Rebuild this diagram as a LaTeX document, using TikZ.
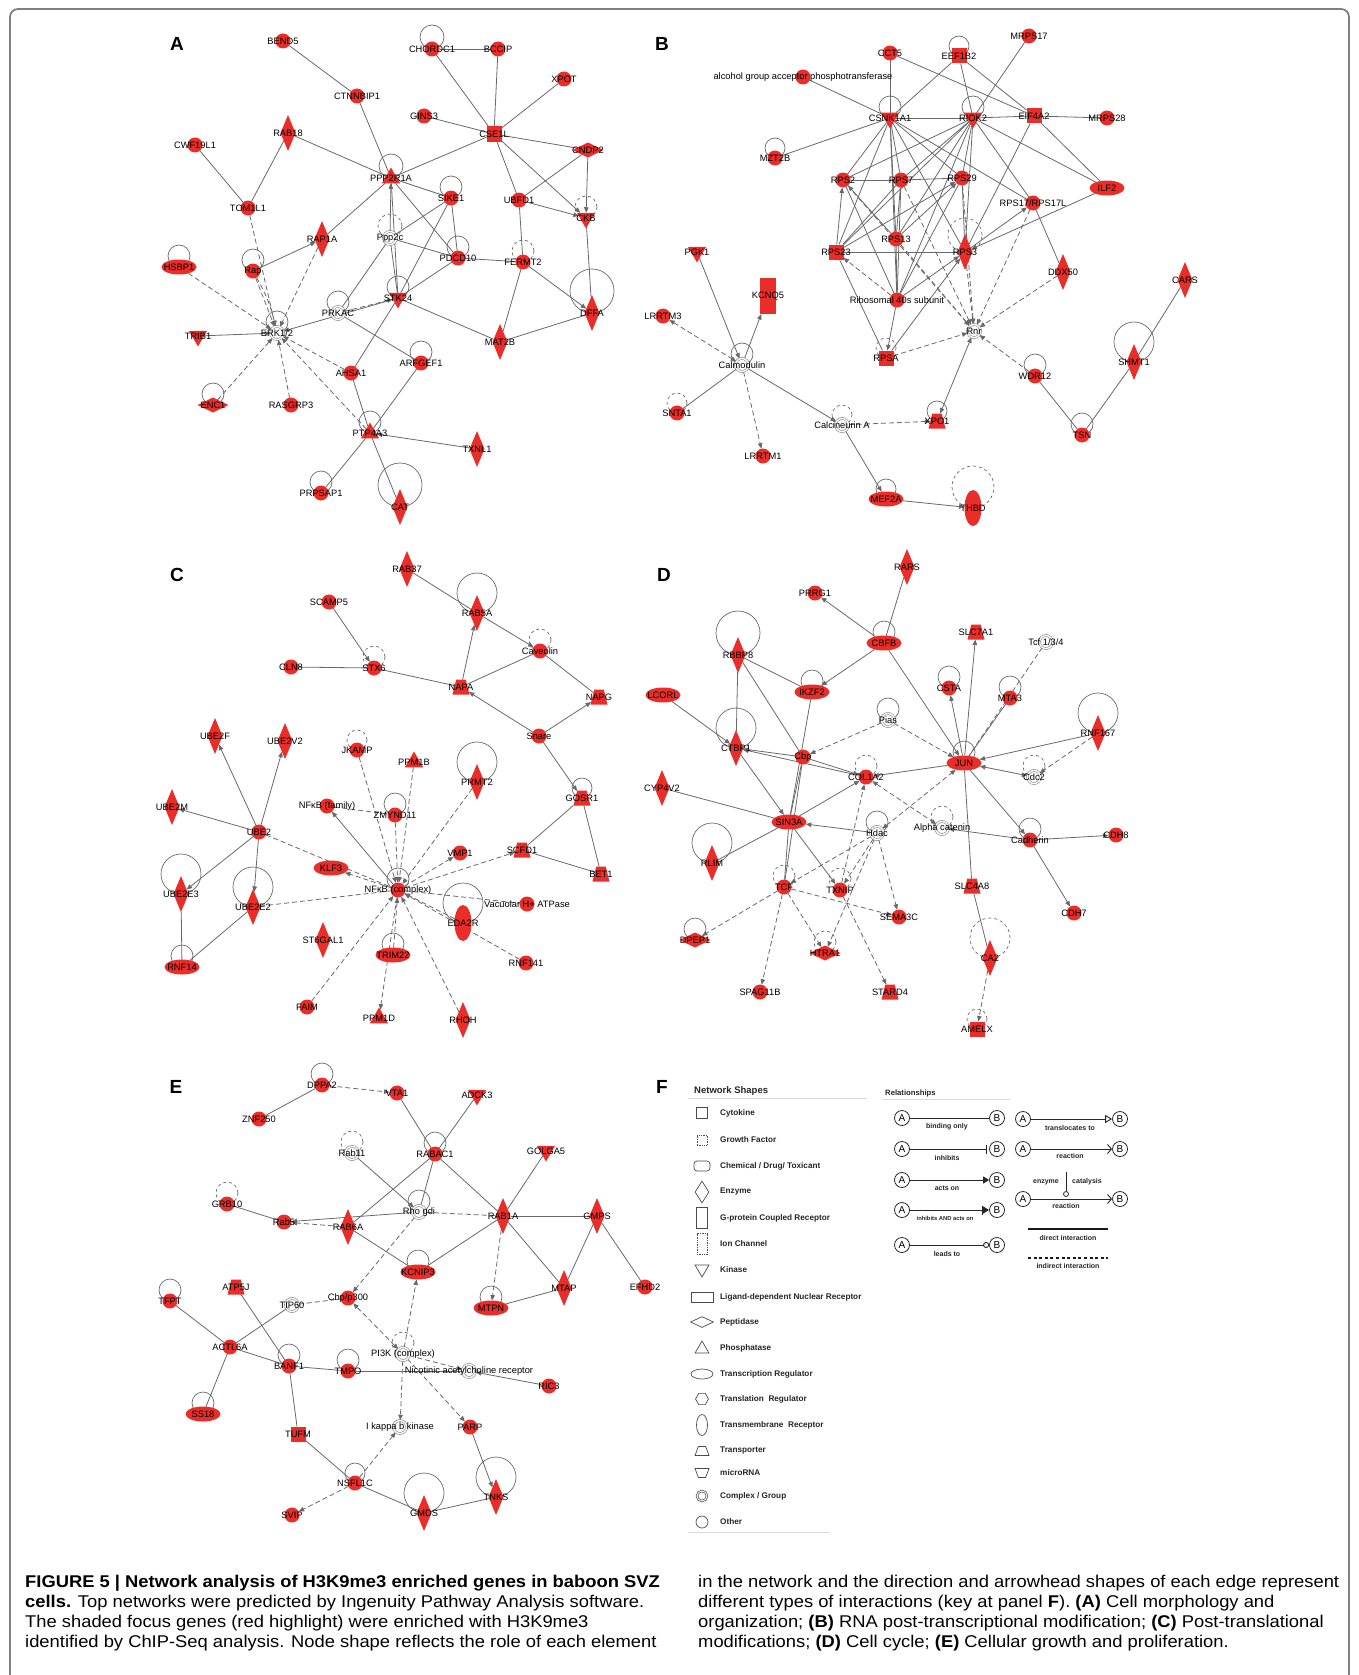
\documentclass[tikz,border=0pt]{standalone}
\usepackage{fontspec}
\usepackage{graphicx}
\setmainfont{Liberation Sans}
\usetikzlibrary{shapes.geometric,arrows.meta,backgrounds}
\definecolor{gred}{RGB}{233,45,41}
\definecolor{eg}{RGB}{105,105,105}
\tikzset{
  gn/.style={fill=gred,draw=none,inner sep=0pt,outer sep=0pt},
  gc/.style={gn,circle,minimum size=15pt},
  gsq/.style={gn,rectangle,minimum width=15pt,minimum height=15pt},
  grect/.style={gn,rectangle,minimum width=16pt,minimum height=36pt},
  genz/.style={gn,diamond,minimum width=15pt,minimum height=36pt},
  gpep/.style={gn,diamond,minimum width=31pt,minimum height=15pt},
  gtr/.style={gn,ellipse,minimum width=35pt,minimum height=15pt},
  gvt/.style={gn,ellipse,minimum width=17pt,minimum height=36pt},
  gkin/.style={gn,regular polygon,regular polygon sides=3,shape border rotate=180,minimum size=21pt},
  gpho/.style={gn,regular polygon,regular polygon sides=3,minimum size=21pt},
  gtp/.style={gn,trapezium,inner sep=1pt,trapezium stretches=true,trapezium left angle=68,trapezium right angle=68,minimum width=17pt,minimum height=15pt},
  gcx/.style={circle,draw=black!50,line width=0.6pt,double=white,double distance=1.4pt,fill=white,minimum size=13pt,inner sep=0pt},
  lb/.style={inner sep=0pt,font=\fontsize{9.3}{10}\selectfont,text=black},
  plet/.style={inner sep=0pt,font=\bfseries\fontsize{19}{20}\selectfont},
  ed/.style={draw=eg,line width=0.8pt},
  ea/.style={ed,-{Triangle[length=5.5pt,width=4.5pt]}},
  eb/.style={ed,{Triangle[length=5.5pt,width=4.5pt]}-{Triangle[length=5.5pt,width=4.5pt]}},
  dd/.style={ed,dash pattern=on 5pt off 3pt},
  da/.style={dd,-{Triangle[length=5.5pt,width=4.5pt]}},
  db/.style={dd,{Triangle[length=5.5pt,width=4.5pt]}-{Triangle[length=5.5pt,width=4.5pt]}},
  lpp/.style={draw=eg,line width=0.7pt},
  ic/.style={draw=black!70,line width=0.7pt,fill=white,inner sep=0pt},
  lgt/.style={anchor=west,inner sep=0pt,font=\bfseries\fontsize{8.2}{9}\selectfont,text=black!85},
  abn/.style={circle,draw=black!85,line width=0.8pt,minimum size=15pt,inner sep=0pt,font=\fontsize{10}{10}\selectfont},
  rl/.style={draw=black!85,line width=0.9pt},
  rlt/.style={inner sep=0pt,font=\bfseries\fontsize{7}{8}\selectfont,text=black!85},
  captx/.style={anchor=base west,inner sep=0pt,font=\fontsize{17}{20}\selectfont},
}
\newcommand\GN[5]{\node[#1] (#2) at (#3,#4) {};\node[lb] (#2-t) at (#3,#4) {#5};}
\newcommand\GL[3][]{\draw[lpp,#1] ([yshift=#3pt]#2.center) circle (#3pt);}
\newcommand\CP[4]{\node[captx] (#1) at (#2,#3) {\scalebox{1.08}[1]{#4}};}
\begin{document}
\begin{tikzpicture}[x=1pt,y=-1pt]
\useasboundingbox (0,0) rectangle (1359,1675);
\begin{scope}[on background layer]
\fill[white] (0,0) rectangle (1359,1675);
\end{scope}
\draw[black!50,line width=1.8pt,rounded corners=8pt] (10,9) rectangle (1349,1700);

% ================= Panel A =================
\node[plet] (pA) at (177,44) {A};
\GN{gc}{bend5}{283}{41}{BEND5}
\GN{gc}{ctnn}{357}{96}{CTNNBIP1}
\GN{gc}{chor}{432}{49}{CHORDC1}
\GN{gc}{bccip}{498}{49}{BCCIP}
\GN{gc}{xpot}{564}{79}{XPOT}
\GN{gc}{gins}{424}{116}{GINS3}
\GN{gsq}{cse}{494}{134}{CSE1L}
\GN{gpep}{cndp}{588}{150}{CNDP2}
\GN{genz}{rab18}{288}{133}{RAB18}
\GN{gc}{cwf}{195}{145}{CWF19L1}
\GN{gpho}{ppp2r1a}{391}{178}{PPP2R1A}
\GN{gc}{sike}{451}{198}{SIKE1}
\GN{gc}{ubfd}{519}{200}{UBFD1}
\GN{gkin}{ckb}{586}{218}{CKB}
\GN{gc}{tom}{248}{208}{TOM1L1}
\GN{genz}{rap1a}{322}{239}{RAP1A}
\GN{gcx}{ppp2c}{390}{238}{Ppp2c}
\GN{gc}{pdcd}{458}{258}{PDCD10}
\GN{gc}{fermt}{523}{262}{FERMT2}
\GN{gtr}{hsbp}{179}{267}{HSBP1}
\GN{gc}{rap}{253}{271}{Rap}
\GN{gkin}{stk}{398}{298}{STK24}
\GN{genz}{dffa}{592}{313}{DFFA}
\GN{gcx}{prkac}{338}{313}{PRKAC}
\GN{gcx}{erk}{277}{333}{ERK1/2}
\GN{gkin}{trib}{198}{336}{TRIB1}
\GN{genz}{mat2b}{500}{342}{MAT2B}
\GN{gc}{ahsa}{351}{373}{AHSA1}
\GN{gc}{arfgef}{421}{363}{ARFGEF1}
\GN{gpep}{enc1}{213}{405}{ENC1}
\GN{gc}{rasgrp}{291}{405}{RASGRP3}
\GN{gpho}{ptp}{370}{433}{PTP4A3}
\GN{genz}{txnl}{477}{449}{TXNL1}
\GN{gc}{prps}{321}{493}{PRPSAP1}
\GN{genz}{cat}{400}{507}{CAT}

% ================= Panel B =================
\node[plet] (pB) at (662,44) {B};
\GN{gc}{mrps17}{1029}{36}{MRPS17}
\GN{gc}{cct5}{890}{53}{CCT5}
\GN{gsq}{eef1b2}{959}{56}{EEF1B2}
\GN{gc}{alc}{803}{77}{alcohol group acceptor phosphotransferase}
\GN{gkin}{csnk}{890}{118}{CSNK1A1}
\GN{gkin}{riok}{973}{118}{RIOK2}
\GN{gsq}{eif}{1034}{116}{EIF4A2}
\GN{gc}{mrps28}{1107}{118}{MRPS28}
\GN{gc}{mzt}{775}{158}{MZT2B}
\GN{gc}{rps2}{843}{180}{RPS2}
\GN{gc}{rps7}{901}{180}{RPS7}
\GN{gc}{rps29}{962}{178}{RPS29}
\GN{gc}{rps17}{1033}{203}{RPS17/RPS17L}
\GN{gtr}{ilf2}{1107}{188}{ILF2}
\GN{gc}{rps13}{896}{239}{RPS13}
\GN{gsq}{rps23}{836}{252}{RPS23}
\GN{genz}{rps3}{965}{252}{RPS3}
\GN{genz}{ddx50}{1063}{272}{DDX50}
\GN{genz}{cars}{1185}{280}{CARS}
\GN{gkin}{pgk1}{697}{252}{PGK1}
\GN{grect}{kcnq}{768}{296}{KCNQ5}
\GN{gc}{ribo}{897}{300}{Ribosomal 40s subunit}
\GN{gc}{lrrtm3}{663}{316}{LRRTM3}
\GN{gcx}{rnr}{974}{331}{Rnr}
\GN{gcx}{calm}{742}{365}{Calmodulin}
\GN{gsq}{rpsa}{886}{358}{RPSA}
\GN{gc}{wdr12}{1035}{376}{WDR12}
\GN{genz}{shmt1}{1134}{362}{SHMT1}
\GN{gc}{snta1}{677}{413}{SNTA1}
\GN{gcx}{calc}{842}{425}{Calcineurin A}
\GN{gtp}{xpo1}{937}{421}{XPO1}
\GN{gc}{tsn}{1082}{435}{TSN}
\GN{gc}{lrrtm1}{763}{456}{LRRTM1}
\GN{gtr}{mef2a}{886}{499}{MEF2A}
\GN{gvt}{thbd}{973}{508}{THBD}

% ================= Panel C =================
\node[plet] (pC) at (177,575) {C};
\GN{genz}{rab37}{407}{569}{RAB37}
\GN{gc}{scamp}{329}{602}{SCAMP5}
\GN{genz}{rab5a}{477}{613}{RAB5A}
\GN{gc}{cav}{540}{651}{Caveolin}
\GN{gc}{cln8}{291}{667}{CLN8}
\GN{gc}{stx6}{374}{668}{STX6}
\GN{gtp}{napa}{461}{687}{NAPA}
\GN{gtp}{napg}{599}{697}{NAPG}
\GN{gc}{snare}{539}{736}{Snare}
\GN{genz}{ube2f}{215}{736}{UBE2F}
\GN{genz}{ube2v2}{285}{741}{UBE2V2}
\GN{gc}{jkamp}{357}{750}{JKAMP}
\GN{gpho}{ppm1b}{414}{762}{PPM1B}
\GN{genz}{prmt2}{477}{782}{PRMT2}
\GN{gtp}{gosr1}{582}{798}{GOSR1}
\GN{genz}{ube2m}{172}{807}{UBE2M}
\GN{gc}{nfkbf}{327}{806}{NFκB (family)}
\GN{gc}{zmynd}{395}{815}{ZMYND11}
\GN{gc}{ube2}{259}{832}{UBE2}
\GN{gc}{vmp1}{460}{853}{VMP1}
\GN{gtp}{scfd1}{522}{850}{SCFD1}
\GN{gtr}{klf3}{331}{868}{KLF3}
\GN{gtp}{bet1}{601}{874}{BET1}
\GN{gc}{nfkbc}{398}{890}{NFκB (complex)}
\GN{genz}{ube2e3}{181}{894}{UBE2E3}
\GN{genz}{ube2e2}{253}{907}{UBE2E2}
\GN{gvt}{eda2r}{463}{923}{EDA2R}
\GN{gc}{vac}{527}{904}{Vacuolar H+ ATPase}
\GN{genz}{st6}{323}{940}{ST6GAL1}
\GN{gtr}{trim}{393}{955}{TRIM22}
\GN{gc}{rnf141}{526}{963}{RNF141}
\GN{gtr}{rnf14}{182}{967}{RNF14}
\GN{gc}{faim}{307}{1007}{FAIM}
\GN{gpho}{ppm1d}{379}{1018}{PPM1D}
\GN{genz}{rhoh}{463}{1020}{RHOH}

% ================= Panel D =================
\node[plet] (pD) at (664,575) {D};
\GN{genz}{rars}{907}{567}{RARS}
\GN{gc}{prrg1}{815}{593}{PRRG1}
\GN{gtr}{cbfb}{884}{643}{CBFB}
\GN{gtp}{slc7a1}{976}{632}{SLC7A1}
\GN{gcx}{tcf134}{1046}{642}{Tcf 1/3/4}
\GN{genz}{rbbp8}{738}{655}{RBBP8}
\GN{gtr}{lcorl}{663}{695}{LCORL}
\GN{gtr}{ikzf2}{812}{692}{IKZF2}
\GN{gc}{csta}{949}{688}{CSTA}
\GN{gc}{mta3}{1010}{698}{MTA3}
\GN{gcx}{pias}{888}{720}{Pias}
\GN{genz}{rnf167}{1098}{733}{RNF167}
\GN{genz}{ctbp1}{736}{748}{CTBP1}
\GN{gc}{cbp}{803}{757}{Cbp}
\GN{gtr}{jun}{964}{763}{JUN}
\GN{gc}{col1a2}{866}{777}{COL1A2}
\GN{gcx}{cdc2}{1034}{777}{Cdc2}
\GN{genz}{cyp4v2}{662}{788}{CYP4V2}
\GN{gtr}{sin3a}{789}{822}{SIN3A}
\GN{gcx}{hdac}{877}{833}{Hdac}
\GN{gcx}{acat}{942}{828}{Alpha catenin}
\GN{gc}{cadh}{1030}{840}{Cadherin}
\GN{gc}{cdh8}{1116}{835}{CDH8}
\GN{genz}{rlim}{712}{863}{RLIM}
\GN{gc}{tcf}{784}{887}{TCF}
\GN{gc}{txnip}{840}{890}{TXNIP}
\GN{gtp}{slc4a8}{972}{886}{SLC4A8}
\GN{gc}{sema3c}{899}{917}{SEMA3C}
\GN{gc}{cdh7}{1074}{913}{CDH7}
\GN{gpep}{dpep1}{695}{940}{DPEP1}
\GN{gpep}{htra1}{825}{953}{HTRA1}
\GN{genz}{ca2}{990}{958}{CA2}
\GN{gc}{spag}{760}{992}{SPAG11B}
\GN{gtp}{stard4}{890}{992}{STARD4}
\GN{gsq}{amelx}{977}{1029}{AMELX}

% ================= Panel E =================
\node[plet] (pE) at (176,1087) {E};
\GN{gc}{dppa2}{322}{1085}{DPPA2}
\GN{gc}{vta1}{397}{1093}{VTA1}
\GN{gkin}{adck3}{477}{1095}{ADCK3}
\GN{gc}{znf}{259}{1119}{ZNF250}
\GN{gcx}{rab11}{352}{1153}{Rab11}
\GN{gc}{rabac1}{435}{1154}{RABAC1}
\GN{gkin}{golga5}{546}{1151}{GOLGA5}
\GN{gc}{grb10}{227}{1204}{GRB10}
\GN{gcx}{rhogdi}{419}{1212}{Rho gdi}
\GN{gc}{rab5}{284}{1222}{Rab5}
\GN{genz}{rab6a}{348}{1227}{RAB6A}
\GN{genz}{rab1a}{503}{1216}{RAB1A}
\GN{genz}{gmps}{597}{1216}{GMPS}
\GN{gtr}{kcnip3}{418}{1272}{KCNIP3}
\GN{genz}{mtap}{564}{1288}{MTAP}
\GN{gc}{efhd2}{645}{1287}{EFHD2}
\GN{gtp}{atp5j}{236}{1287}{ATP5J}
\GN{gc}{tfpt}{170}{1301}{TFPT}
\GN{gcx}{tip60}{292}{1305}{TIP60}
\GN{gc}{cbpp}{348}{1298}{Cbp/p300}
\GN{gtr}{mtpn}{491}{1308}{MTPN}
\GN{gc}{actl6a}{230}{1347}{ACTL6A}
\GN{gcx}{pi3k}{403}{1354}{PI3K (complex)}
\GN{gc}{banf1}{289}{1366}{BANF1}
\GN{gc}{tmpo}{348}{1371}{TMPO}
\GN{gcx}{nach}{469}{1371}{Nicotinic acetylcholine receptor}
\GN{gc}{ric3}{549}{1386}{RIC3}
\GN{gtr}{ss18}{203}{1414}{SS18}
\GN{gcx}{ikbk}{400}{1427}{I kappa b kinase}
\GN{gc}{parp}{470}{1427}{PARP}
\GN{gsq}{tufm}{298}{1434}{TUFM}
\GN{gc}{nsfl1c}{355}{1483}{NSFL1C}
\GN{genz}{tnks}{496}{1497}{TNKS}
\GN{genz}{gmds}{424}{1513}{GMDS}
\GN{gc}{svip}{292}{1515}{SVIP}

% ================= edges and loops =================
\begin{scope}[on background layer]
% loops A
\GL{chor}{12}\GL{ppp2r1a}{12}\GL{sike}{11}\GL[dashed]{ckb}{11}\GL[dashed]{ppp2c}{12}
\GL{pdcd}{11}\GL[dashed]{fermt}{11}\GL{hsbp}{11}\GL{rap}{11}\GL{stk}{11}\GL{dffa}{22}
\GL{prkac}{11}\GL{erk}{11}\GL{arfgef}{11}\GL{enc1}{11}\GL{ptp}{11}\GL{prps}{11}\GL{cat}{22}
% edges A
\draw[ed] (bend5)--(ctnn); \draw[ed] (ctnn)--(ppp2r1a); \draw[ed] (chor)--(bccip);
\draw[ed] (chor)--(cse); \draw[ed] (bccip)--(cse); \draw[ed] (xpot)--(cse);
\draw[ed] (gins)--(cse); \draw[ed] (cse)--(ppp2r1a); \draw[ed] (cse)--(cndp);
\draw[ed] (cse)--(ubfd); \draw[ea] (cse)--(ckb); \draw[ed] (cndp)--(ubfd);
\draw[ea] (cndp)--(ckb); \draw[ea] (ubfd)--(ckb); \draw[ed] (ubfd)--(fermt);
\draw[ed] (ckb)--(dffa); \draw[ea] (fermt)--(dffa); \draw[ed] (fermt)--(mat2b);
\draw[ed] (mat2b)--(dffa); \draw[ed] (rab18)--(ppp2r1a); \draw[ed] (rab18)--(tom);
\draw[ed] (cwf)--(tom); \draw[da] (tom)--(erk); \draw[ed] (ppp2r1a)--(rap1a);
\draw[ed] (ppp2r1a)--(sike); \draw[ed] (ppp2r1a)--(pdcd); \draw[ea] (ppp2c)--(ppp2r1a);
\draw[ed] (ppp2r1a)--(stk); \draw[ed] (ppp2c)--(stk); \draw[ed] (ppp2c)--(pdcd);
\draw[ed] (sike)--(ppp2c); \draw[ed] (sike)--(pdcd); \draw[ed] (sike)--(stk);
\draw[ed] (pdcd)--(fermt); \draw[ed] (pdcd)--(stk); \draw[ea] (rap)--(rap1a);
\draw[da] (rap)--(erk); \draw[da] (rap) to[bend left=8] (erk); \draw[da] (rap1a)--(erk); \draw[da] (hsbp)--(erk);
\draw[ed] (ppp2c)--(prkac); \draw[da] (prkac)--(stk); \draw[ea] (stk)--(erk);
\draw[ea] (trib)--(erk); \draw[da] (enc1)--(erk); \draw[da] (rasgrp)--(erk);
\draw[da] (ahsa)--(erk); \draw[da] (ptp)--(erk); \draw[ed] (prkac)--(arfgef);
\draw[ed] (stk)--(mat2b); \draw[ed] (ahsa)--(stk); \draw[ed] (ahsa)--(ptp);
\draw[ed] (arfgef)--(ptp); \draw[ea] (txnl)--(ptp); \draw[ed] (ptp)--(prps);
\draw[ed] (ptp)--(cat);
% loops B
\GL{eef1b2}{10}\GL{csnk}{11}\GL{riok}{11}\GL{mzt}{10}\GL[dashed]{rps3}{17}
\GL{calm}{11}\GL[dashed]{rpsa}{10}\GL{wdr12}{11}\GL{shmt1}{20}\GL[dashed]{snta1}{10}
\GL[dashed]{calc}{10}\GL{xpo1}{10}\GL{tsn}{11}\GL{mef2a}{10}\GL[dashed]{thbd}{21}
% edges B
\draw[ed] (alc)--(csnk); \draw[ed] (cct5)--(csnk); \draw[ed] (cct5)--(eif);
\draw[ed] (eef1b2)--(csnk); \draw[ed] (eef1b2)--(riok); \draw[ed] (eef1b2)--(eif);
\draw[ed] (mrps17)--(riok); \draw[ed] (csnk)--(riok); \draw[ed] (riok)--(eif);
\draw[ed] (eif)--(mrps28); \draw[ed] (mzt)--(csnk);
\foreach \t in {rps2,rps7,rps29,rps13,rps23,rps3,rps17,ribo} {\draw[ed] (csnk)--(\t);}
\foreach \t in {rps2,rps7,rps29,rps13,rps23,rps3,rps17,ilf2,ribo} {\draw[ed] (riok)--(\t);}
\draw[ed] (eif)--(rps3); \draw[ed] (eif)--(ilf2); \draw[ed] (rps2)--(rps7);
\draw[ed] (rps7)--(rps29); \draw[ed] (rps23)--(rps3); \draw[ea] (rps23)--(rps2);
\draw[ea] (rps13)--(rps2); \draw[ea] (rps13)--(rps29); \draw[ed] (rps13)--(rps7);
\draw[ed] (rps23)--(rps7); \draw[ea] (rps23)--(rps29); \draw[ea] (rps3)--(rps17);
\draw[ea] (ilf2)--(rps3); \draw[ed] (rps29)--(rps3); \draw[ed] (rps17)--(ddx50);
\draw[ed] (rps2)--(ribo); \draw[ed] (rps7)--(ribo); \draw[ed] (rps29)--(ribo);
\draw[ed] (rps13)--(ribo); \draw[ea] (ribo)--(rps3); \draw[da] (ribo)--(rps23);
\draw[ea] (ribo)--(rpsa); \draw[ed] (rps23)--(rpsa); \draw[ea] (rpsa)--(rps3);
\foreach \t in {rps2,rps7,rps29,rps3,rps17,ddx50,rpsa,wdr12,rps13} {\draw[da] (\t)--(rnr);}
\draw[eb] (xpo1)--(rnr); \draw[ea] (pgk1)--(calm); \draw[ea] (calm)--(kcnq);
\draw[db] (lrrtm3)--(calm); \draw[ed] (calm)--(snta1); \draw[da] (calm)--(lrrtm1);
\draw[ea] (calm)--(calc); \draw[da] (calc)--(xpo1); \draw[ea] (calc)--(mef2a);
\draw[ea] (mef2a)--(thbd); \draw[ed] (wdr12)--(tsn); \draw[ed] (tsn)--(shmt1);
\draw[ed] (shmt1)--(cars);
% loops C
\GL{rab5a}{20}\GL[dashed]{cav}{11}\GL[dashed]{stx6}{11}\GL[dashed]{jkamp}{10}\GL{prmt2}{20}
\GL{gosr1}{10}\GL{zmynd}{11}\GL{nfkbc}{11}\GL{ube2e3}{20}\GL{ube2e2}{20}\GL{eda2r}{20}
\GL{trim}{11}\GL{rnf14}{11}
% edges C
\draw[ed] (rab37)--(rab5a); \draw[ea] (rab5a)--(cav); \draw[ea] (scamp)--(stx6);
\draw[ed] (cln8)--(stx6); \draw[ed] (stx6)--(napa); \draw[ea] (napa)--(rab5a);
\draw[ed] (cav)--(napa); \draw[ed] (cav)--(napg); \draw[ea] (snare)--(napa);
\draw[ea] (snare)--(napg); \draw[ea] (snare)--(gosr1); \draw[ed] (gosr1)--(scfd1);
\draw[ed] (gosr1)--(bet1); \draw[ed] (scfd1)--(bet1);
\foreach \t in {ube2f,ube2v2,ube2m,ube2e3,ube2e2} {\draw[ea] (ube2)--(\t);}
\draw[dd] (ube2)--(nfkbc); \draw[ed] (ube2e3)--(rnf14); \draw[ed] (ube2e2)--(rnf14);
\draw[dd] (ube2e2)--(nfkbc); \draw[ea] (nfkbc)--(nfkbf); \draw[dd] (nfkbf)--(zmynd);
\foreach \t in {jkamp,ppm1b,zmynd,prmt2,eda2r,rnf141,faim,trim,rhoh} {\draw[da] (\t)--(nfkbc);}
\draw[da] (nfkbc)--(vmp1); \draw[da] (nfkbc)--(scfd1); \draw[da] (nfkbc)--(klf3);
\draw[dd] (nfkbc)--(vac); \draw[da] (nfkbc)--(ppm1d);
% loops D
\GL{cbfb}{11}\GL{rbbp8}{22}\GL{ikzf2}{11}\GL{csta}{11}\GL{mta3}{11}\GL{pias}{11}
\GL{rnf167}{20}\GL{ctbp1}{20}\GL{jun}{11}\GL[dashed]{col1a2}{11}\GL[dashed]{cdc2}{11}
\GL{hdac}{11}\GL[dashed]{acat}{11}\GL{cadh}{11}\GL{rlim}{20}\GL[dashed]{tcf}{11}
\GL[dashed]{txnip}{11}\GL{dpep1}{11}\GL[dashed]{htra1}{11}\GL[dashed]{ca2}{20}\GL[dashed]{amelx}{10}
% edges D
\draw[ea] (cbfb)--(prrg1); \draw[ed] (rars)--(cbfb); \draw[ea] (cbfb)--(ikzf2);
\draw[ea] (cbfb)--(jun); \draw[ed] (rbbp8)--(ikzf2); \draw[ed] (rbbp8)--(ctbp1);
\draw[ed] (rbbp8)--(cbp); \draw[ea] (lcorl)--(ctbp1); \draw[ed] (ikzf2)--(sin3a);
\draw[da] (pias)--(cbp); \draw[da] (pias)--(jun); \draw[ea] (cbp)--(ctbp1);
\draw[ea] (col1a2)--(ctbp1); \draw[ea] (ctbp1)--(sin3a); \draw[ed] (cbp)--(sin3a);
\draw[ea] (jun)--(col1a2); \draw[ea] (jun)--(csta); \draw[ea] (jun)--(slc7a1);
\draw[ed] (jun)--(mta3); \draw[dd] (tcf134)--(jun); \draw[ea] (rnf167)--(jun);
\draw[eb] (jun)--(cdc2); \draw[da] (rnf167)--(cdc2); \draw[ed] (cyp4v2)--(sin3a);
\draw[ea] (sin3a)--(col1a2); \draw[ea] (hdac)--(sin3a);
\foreach \t in {tcf,txnip,htra1,sema3c} {\draw[da] (hdac)--(\t);}
\draw[db] (hdac)--(jun); \draw[db] (col1a2)--(acat); \draw[da] (txnip)--(col1a2);
\draw[ea] (cadh)--(acat); \draw[ea] (jun)--(cadh); \draw[ea] (cadh)--(cdh8);
\draw[ea] (cadh)--(cdh7); \draw[ed] (jun)--(slc4a8); \draw[ed] (slc4a8)--(ca2);
\draw[da] (ca2)--(amelx); \draw[ed] (rlim)--(sin3a); \draw[ea] (sin3a)--(txnip);
\draw[ed] (sin3a)--(tcf); \draw[ed] (cbp)--(tcf);
\foreach \t in {dpep1,spag,htra1,sema3c} {\draw[da] (tcf)--(\t);}
\draw[da] (txnip)--(stard4); \draw[ea] (cbp)--(col1a2);
% loops E
\GL{dppa2}{11}\GL[dashed]{rab11}{11}\GL{rabac1}{11}\GL[dashed]{grb10}{11}\GL{rhogdi}{11}
\GL{kcnip3}{11}\GL{tfpt}{11}\GL{mtpn}{11}\GL[dashed]{pi3k}{11}\GL{banf1}{11}\GL{tmpo}{11}
\GL{ss18}{11}\GL{nsfl1c}{10}\GL{tnks}{20}\GL{gmds}{20}
% edges E
\draw[ed] (dppa2)--(znf); \draw[da] (dppa2)--(vta1); \draw[ed] (vta1)--(rabac1);
\draw[ed] (adck3)--(rabac1); \draw[ed] (rabac1)--(rab6a); \draw[ed] (rabac1)--(rhogdi);
\draw[ed] (rabac1)--(rab1a); \draw[ea] (rab11)--(rhogdi); \draw[ed] (grb10)--(rab5);
\draw[ea] (rhogdi)--(rab5); \draw[da] (rab6a)--(rab5); \draw[dd] (rhogdi)--(rab1a);
\draw[da] (rhogdi)--(cbpp); \draw[ed] (rab1a)--(golga5); \draw[ed] (rab1a)--(gmps);
\draw[ed] (rab1a)--(mtap); \draw[ed] (rab1a)--(kcnip3); \draw[da] (rab1a)--(mtpn);
\draw[ed] (rab6a)--(kcnip3); \draw[ed] (gmps)--(mtap); \draw[ed] (gmps)--(efhd2);
\draw[ed] (mtap)--(mtpn); \draw[da] (pi3k)--(kcnip3); \draw[db] (pi3k)--(cbpp);
\draw[da] (pi3k)--(nach); \draw[da] (pi3k)--(ikbk); \draw[da] (pi3k)--(parp);
\draw[dd] (tip60)--(cbpp); \draw[ed] (tip60)--(actl6a); \draw[ed] (tfpt)--(actl6a);
\draw[ed] (atp5j)--(banf1); \draw[ed] (actl6a)--(banf1); \draw[ed] (actl6a)--(ss18);
\draw[ed] (banf1)--(tmpo); \draw[ed] (tmpo)--(nach); \draw[ea] (ric3)--(nach);
\draw[ed] (banf1)--(tufm); \draw[ed] (tufm)--(nsfl1c); \draw[da] (nsfl1c)--(ikbk);
\draw[da] (nsfl1c)--(svip); \draw[ed] (nsfl1c)--(gmds); \draw[ed] (gmds)--(tnks);
\draw[ea] (parp)--(tnks);
\end{scope}

% ================= Panel F legend =================
\node[plet] (pF) at (662,1087) {F};
\node[anchor=west,inner sep=0pt,font=\bfseries\fontsize{9.5}{10}\selectfont,text=black!85] (nsh) at (694,1091) {Network Shapes};
\coordinate (nsl1) at (688,1098); \coordinate (nsl2) at (867,1098);
\draw[black!15,line width=0.8pt] (nsl1)--(nsl2);
\node[ic,rectangle,minimum width=11pt,minimum height=11pt] (i1) at (702,1113) {};
\node[ic,rectangle,densely dotted,minimum width=10pt,minimum height=10pt] (i2) at (702,1140) {};
\node[ic,rectangle,rounded corners=3pt,minimum width=16pt,minimum height=10pt] (i3) at (702,1166) {};
\node[ic,diamond,minimum width=14pt,minimum height=22pt] (i4) at (702,1192) {};
\node[ic,rectangle,minimum width=11pt,minimum height=21pt] (i5) at (702,1218) {};
\node[ic,rectangle,densely dotted,minimum width=10pt,minimum height=21pt] (i6) at (702,1244) {};
\node[ic,regular polygon,regular polygon sides=3,shape border rotate=180,minimum size=16pt] (i7) at (702,1269) {};
\node[ic,rectangle,minimum width=22pt,minimum height=10pt] (i8) at (702,1297) {};
\node[ic,diamond,minimum width=23pt,minimum height=11pt] (i9) at (702,1322) {};
\node[ic,regular polygon,regular polygon sides=3,minimum size=16pt] (i10) at (702,1349) {};
\node[ic,ellipse,minimum width=22pt,minimum height=10pt] (i11) at (702,1374) {};
\node[ic,regular polygon,regular polygon sides=6,minimum size=13pt] (i12) at (702,1399) {};
\node[ic,ellipse,minimum width=11pt,minimum height=21pt] (i13) at (702,1425) {};
\node[ic,trapezium,inner sep=1pt,trapezium stretches=true,trapezium left angle=65,trapezium right angle=65,minimum width=14pt,minimum height=9pt] (i14) at (702,1451) {};
\node[ic,trapezium,inner sep=1pt,trapezium stretches=true,trapezium left angle=65,trapezium right angle=65,shape border rotate=180,minimum width=14pt,minimum height=9pt] (i15) at (702,1473) {};
\node[ic,circle,double=white,double distance=1pt,minimum size=10pt] (i16) at (702,1496) {};
\node[ic,circle,minimum size=12pt] (i17) at (702,1522) {};
\node[lgt] (t1) at (720,1113) {Cytokine};
\node[lgt] (t2) at (720,1140) {Growth Factor};
\node[lgt] (t3) at (720,1166) {Chemical / Drug/ Toxicant};
\node[lgt] (t4) at (720,1192) {Enzyme};
\node[lgt] (t5) at (720,1218) {G-protein Coupled Receptor};
\node[lgt] (t6) at (720,1244) {Ion Channel};
\node[lgt] (t7) at (720,1270) {Kinase};
\node[lgt] (t8) at (720,1297) {Ligand-dependent Nuclear Receptor};
\node[lgt] (t9) at (720,1322) {Peptidase};
\node[lgt] (t10) at (720,1348) {Phosphatase};
\node[lgt] (t11) at (720,1374) {Transcription Regulator};
\node[lgt] (t12) at (720,1399) {Translation\ \ Regulator};
\node[lgt] (t13) at (720,1425) {Transmembrane\ \ Receptor};
\node[lgt] (t14) at (720,1451) {Transporter};
\node[lgt] (t15) at (720,1473) {microRNA};
\node[lgt] (t16) at (720,1496) {Complex / Group};
\node[lgt] (t17) at (720,1522) {Other};
\coordinate (nsb1) at (688,1532); \coordinate (nsb2) at (830,1532);
\draw[black!15,line width=0.8pt] (nsb1)--(nsb2);

% Relationships
\node[anchor=west,inner sep=0pt,font=\bfseries\fontsize{7.7}{8}\selectfont,text=black!85] (rel) at (885,1093) {Relationships};
\coordinate (rl1) at (882,1099); \coordinate (rl2) at (1010,1099);
\draw[black!15,line width=0.8pt] (rl1)--(rl2);
\foreach \n/\y in {1/1118,2/1149,3/1180,4/1210,5/1245} {
  \node[abn] (a\n) at (902,\y) {A}; \node[abn] (b\n) at (997,\y) {B};
}
\foreach \n/\y in {6/1119,7/1149,8/1199} {
  \node[abn] (a\n) at (1023,\y) {A}; \node[abn] (b\n) at (1120,\y) {B};
}
\draw[rl] (a1)--(b1);
\draw[rl,-{Bar[width=9pt]},shorten >=2pt] (a2)--(b2);
\draw[rl,-{Triangle[length=6pt,width=7pt]}] (a3)--(b3);
\draw[rl,-{Bar[width=9pt] Triangle[length=6pt,width=7pt]}] (a4)--(b4);
\draw[rl,-{Circle[open,length=6pt]}] (a5)--(b5);
\draw[rl,-{Triangle[open,length=7pt,width=8pt]}] (a6)--(b6);
\draw[rl,-{Straight Barb[length=4pt,width=9pt]}] (a7)--(b7);
\draw[rl,-{Straight Barb[length=4pt,width=9pt]}] (a8)--(b8);
\coordinate (ct1) at (1066,1172);
\node[circle,draw=black!85,line width=0.8pt,fill=white,minimum size=5pt,inner sep=0pt] (ct2) at (1066,1194) {};
\draw[rl] (ct1)--(ct2);
\coordinate (di1) at (1028,1229); \coordinate (di2) at (1108,1229);
\draw[line width=2.6pt,black!90] (di1)--(di2);
\coordinate (ii1) at (1028,1258); \coordinate (ii2) at (1108,1258);
\draw[line width=2.6pt,black!90,dash pattern=on 3pt off 2.6pt] (ii1)--(ii2);
\node[rlt] (r1) at (947,1127) {binding only};
\node[rlt] (r2) at (947,1158) {inhibits};
\node[rlt] (r3) at (947,1188) {acts on};
\node[rlt,font=\bfseries\fontsize{5.8}{6}\selectfont] (r4) at (945,1218) {inhibits AND acts on};
\node[rlt] (r5) at (947,1254) {leads to};
\node[rlt] (r6) at (1070,1128) {translocates to};
\node[rlt] (r7) at (1070,1156) {reaction};
\node[rlt] (r8) at (1046,1182) {enzyme};
\node[rlt] (r9) at (1087,1182) {catalysis};
\node[rlt] (r10) at (1066,1206) {reaction};
\node[rlt] (r11) at (1068,1238) {direct interaction};
\node[rlt] (r12) at (1068,1266) {indirect interaction};

% ================= Caption =================
\CP{c1}{25}{1587}{\textbf{FIGURE 5 | Network analysis of H3K9me3 enriched genes in baboon SVZ}}
\CP{c2}{25}{1607}{\textbf{cells.} Top networks were predicted by Ingenuity Pathway Analysis software.}
\CP{c3}{25}{1627}{The shaded focus genes (red highlight) were enriched with H3K9me3}
\CP{c4}{25}{1647}{identified by ChIP-Seq analysis. Node shape reflects the role of each element}
\CP{c5}{698}{1587}{in the network and the direction and arrowhead shapes of each edge represent}
\CP{c6}{698}{1607}{different types of interactions (key at panel \textbf{F}). \textbf{(A)} Cell morphology and}
\CP{c7}{698}{1627}{organization; \textbf{(B)} RNA post-transcriptional modification; \textbf{(C)} Post-translational}
\CP{c8}{698}{1647}{modifications; \textbf{(D)} Cell cycle; \textbf{(E)} Cellular growth and proliferation.}
\end{tikzpicture}
\end{document}
